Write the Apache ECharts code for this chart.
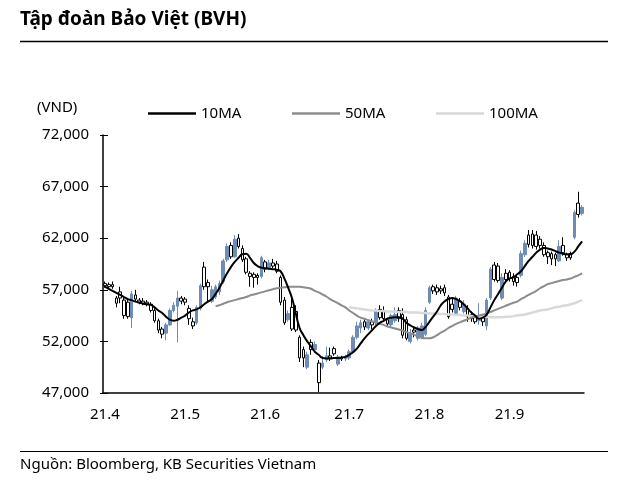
<!DOCTYPE html>
<html>
<head>
<meta charset="utf-8">
<script src="https://cdn.jsdelivr.net/npm/echarts@6/dist/echarts.min.js"></script>
<style>
html,body{margin:0;padding:0;background:#fff;}
#chart{width:628px;height:483px;}
</style>
</head>
<body>
<div id="chart"></div>
<script>
// ---- Data ----
const monthLabels = ['21.4', '21.5', '21.6', '21.7', '21.8', '21.9'];
const monthDays = [21, 21, 22, 21, 21, 20];
const extraTickIdx = [57];
const yTicks = [47000, 52000, 57000, 62000, 67000, 72000];

const open = [57600,57500,57500,56200,56800,56000,55800,54300,56500,56000,55900,55800,55600,55000,54000,53200,52800,53600,55000,55400,56200,56100,55200,53900,53800,55200,59200,57700,55900,56300,56800,57800,59900,61300,60200,62000,61000,60000,58600,58500,58400,58300,59700,59100,59600,59500,58200,56000,54100,55300,54900,52400,51200,49500,51900,51200,49900,49500,50200,50600,51300,49800,50400,50300,50400,51000,52400,53300,53900,53300,53900,53800,55100,55000,54100,53600,54000,55000,54600,54100,52000,53100,52300,52400,52700,55800,57300,57200,57100,57200,56300,55600,54700,55900,54900,55200,54600,54300,54000,54300,53500,56200,59400,59300,56200,58600,58700,58300,58200,58400,60400,62300,62400,62300,61900,61300,60600,60500,60400,59800,61300,60400,60500,62100,65400,64400];
const close = [57400,57300,57300,55700,56200,54500,54400,56600,56100,55800,55700,55600,55000,54000,53100,52700,53600,55000,55500,56200,55900,55800,54200,53500,55300,57400,57300,57300,57000,57300,57600,59800,61200,60200,61900,61200,59900,58700,58300,58200,58200,60100,59000,59600,59300,58800,55800,53800,54700,53200,53100,50400,50400,50700,51200,51700,48000,49900,50600,50400,50800,50500,50300,50500,51000,52400,53500,53800,53400,53900,53600,55000,54300,54200,53700,54500,54600,54200,52600,52300,52700,52900,53300,53500,55000,57200,56900,56800,56900,56700,54400,55100,56200,55300,55600,54400,54200,53900,54300,53900,56000,59000,58000,57900,58200,58000,58100,57800,57700,60500,61500,61400,61300,61200,61300,60400,60200,60000,60000,61200,60600,60100,60100,64500,64300,65000];
const low = [57200,57100,57100,55300,55700,54200,54200,53300,55900,55600,55500,55400,54800,53800,52800,52300,52100,53500,54800,51900,55600,55500,53600,53200,53600,55000,57000,55900,55700,56100,56500,57600,59700,60000,60100,61000,59700,58500,57300,57200,57500,58100,58700,58900,59100,58600,55500,53600,53900,53000,52900,50000,49500,49300,50700,50900,47100,49300,50000,50100,50600,49600,50100,50100,50200,50800,52200,52800,53100,53100,53200,53600,54100,54000,53500,53400,53800,53900,52300,52100,51800,52400,52100,52200,52500,55600,56600,56500,56600,56400,54200,54800,54500,55000,54700,53900,53900,53700,53600,53500,53100,56000,57800,57700,56000,57700,57800,57400,57300,58200,60200,61100,61000,60900,61000,60200,59500,59400,59300,59700,60300,59800,59900,61900,64000,64200];
const high = [57800,57700,57800,56400,57300,56200,56000,56900,57000,56200,56200,56000,55800,55200,54200,53400,53800,55200,55800,56900,56400,56300,55500,54300,55500,57600,59700,58000,57400,57500,57900,60000,61500,61600,62300,62400,61300,60200,58800,58700,58600,60300,59900,59900,60000,59800,58400,56300,55000,56300,55500,52600,51500,51000,52200,52000,50200,50600,51500,51400,51500,50700,50600,50700,51200,52600,53900,54100,54200,54100,54200,55200,55500,55400,54300,54700,55300,55300,55200,54400,53200,53400,53500,53800,55300,57400,57500,57500,57400,57500,56500,56300,56400,56200,56000,55500,54900,54600,55700,54500,56200,59200,59700,59600,58600,59000,58900,58600,58500,60800,61800,62800,62800,62700,62200,61600,60800,60700,60600,61800,62100,60600,60700,64700,66500,65200];

const ma10 = [57300,57100,56900,56700,56500,56300,56100,56000,55850,55750,55650,55600,55550,55300,55000,54750,54400,54100,54000,54100,54300,54500,54800,55000,55100,55300,55600,55850,56100,56600,57200,57900,58600,59200,59700,60100,60450,60500,60100,59600,59300,59150,59100,59050,59000,58950,58800,58100,57200,56200,54700,53300,52600,52000,51500,51000,50700,50400,50350,50350,50400,50400,50450,50500,50700,50950,51300,51800,52300,52700,53100,53500,53800,54000,54200,54300,54350,54350,54200,53800,53550,53350,53200,53100,53400,53900,54400,54900,55500,55900,56100,56200,56100,55900,55600,55200,54800,54500,54200,54300,54600,55300,56000,56600,57200,57800,58100,58200,58500,58800,59300,59800,60200,60600,60900,61050,61000,60900,60750,60600,60500,60450,60450,60700,61200,61700];
const ma50 = [null,null,null,null,null,null,null,null,null,null,null,null,null,null,null,null,null,null,null,null,null,null,null,null,null,null,null,null,null,55400,55500,55650,55800,55900,56000,56100,56200,56300,56450,56550,56650,56750,56850,56950,57050,57150,57200,57250,57300,57300,57300,57300,57250,57200,57100,56900,56750,56550,56350,56100,55900,55700,55500,55300,55000,54750,54500,54300,54200,54050,53950,53850,53700,53600,53450,53350,53250,53150,53050,52900,52800,52650,52500,52350,52300,52300,52400,52600,52850,53050,53300,53500,53700,53850,54000,54150,54300,54400,54500,54600,54700,54850,55000,55150,55300,55450,55600,55750,55850,56100,56300,56500,56700,56900,57150,57350,57550,57650,57750,57850,57950,58000,58100,58250,58400,58600];
const ma100 = [null,null,null,null,null,null,null,null,null,null,null,null,null,null,null,null,null,null,null,null,null,null,null,null,null,null,null,null,null,null,null,null,null,null,null,null,null,null,null,null,null,null,null,null,null,null,null,null,null,null,null,null,null,null,null,null,null,null,null,null,null,null,null,null,55300,55250,55200,55150,55100,55050,55000,55000,54950,54950,54900,54900,54900,54850,54850,54850,54800,54800,54800,54750,54750,54700,54700,54700,54650,54650,54600,54600,54550,54550,54500,54500,54450,54450,54400,54400,54400,54350,54350,54350,54350,54400,54400,54450,54500,54550,54600,54700,54800,54900,55000,55050,55100,55200,55300,55350,55450,55500,55600,55700,55850,56000];

// ---- Build categories & tick positions ----
const categories = [];
const monthStart = {};
monthLabels.forEach((m, k) => {
  monthStart[categories.length] = m;
  for (let d = 1; d <= monthDays[k]; d++) categories.push(m + '-' + d);
});
const tickSet = new Set(Object.keys(monthStart).map(Number).concat(extraTickIdx));
const candleData = open.map((o, i) => [o, close[i], low[i], high[i]]);

const FONT = 'Noto Sans';
const legendBase = {top: 101, itemWidth: 48, itemHeight: 2.5, icon: 'rect', itemGap: 6,
  textStyle: {fontSize: 15, color: '#000', fontFamily: FONT}};
const chart = echarts.init(document.getElementById('chart'), null, {renderer: 'canvas'});
chart.setOption({
  animation: false,
  backgroundColor: '#fff',
  textStyle: {fontFamily: FONT, color: '#000'},
  grid: {left: 103, right: 44, top: 135, bottom: 90},
  legend: [
    Object.assign({data: ['10MA'], left: 143}, legendBase),
    Object.assign({data: ['50MA'], left: 287}, legendBase),
    Object.assign({data: ['100MA'], left: 431}, legendBase)
  ],
  xAxis: {
    type: 'category',
    data: categories,
    boundaryGap: true,
    axisLine: {lineStyle: {color: '#000', width: 1.5}},
    axisTick: {inside: true, length: 6, lineStyle: {color: '#000'}, interval: (i) => tickSet.has(i)},
    axisLabel: {
      interval: (i) => monthStart[i] !== undefined,
      formatter: (v, i) => monthStart[i] || '',
      fontSize: 15, color: '#000', margin: 14, fontFamily: FONT
    },
    splitLine: {show: false}
  },
  yAxis: [
    {
      type: 'value', min: yTicks[0], max: yTicks[yTicks.length - 1], interval: 5000,
      axisLine: {show: true, lineStyle: {color: '#000', width: 1.5}},
      axisTick: {show: true, inside: true, length: 5, lineStyle: {color: '#000'}},
      axisLabel: {fontSize: 15, color: '#000', margin: 14, fontFamily: FONT,
        formatter: (v) => v.toLocaleString('en-US')},
      splitLine: {show: false}
    },
    {
      type: 'value', min: yTicks[0], max: yTicks[yTicks.length - 1], interval: 5000, position: 'left',
      axisLine: {show: false},
      axisTick: {show: true, inside: false, length: 3, lineStyle: {color: '#000'}},
      axisLabel: {show: false},
      splitLine: {show: false}
    }
  ],
  graphic: [
    {type: 'text', x: 20, y: 20, style: {text: 'Tập đoàn Bảo Việt (BVH)', font: 'bold 19px "Noto Sans"', fill: '#000', verticalAlign: 'middle'}},
    {type: 'line', shape: {x1: 20, y1: 41.5, x2: 608, y2: 41.5}, style: {stroke: '#000', lineWidth: 1.5}},
    {type: 'text', x: 37, y: 108, style: {text: '(VND)', font: '15px "Noto Sans"', fill: '#000', verticalAlign: 'middle'}},
    {type: 'line', shape: {x1: 20, y1: 451.5, x2: 608, y2: 451.5}, style: {stroke: '#000', lineWidth: 1}},
    {type: 'text', x: 20, y: 465, style: {text: 'Nguồn: Bloomberg, KB Securities Vietnam', font: '15px "Noto Sans"', fill: '#000', verticalAlign: 'middle'}}
  ],
  series: [
    {
      type: 'candlestick', name: 'BVH', data: candleData, barWidth: '82%',
      itemStyle: {color: '#6d8db5', color0: '#ffffff', borderColor: '#6d8db5', borderColor0: '#000000', borderWidth: 1}
    },
    {type: 'line', name: '100MA', data: ma100, smooth: true, symbol: 'none', lineStyle: {color: '#d9d9d9', width: 2.5}, itemStyle: {color: '#d9d9d9'}},
    {type: 'line', name: '50MA', data: ma50, smooth: true, symbol: 'none', lineStyle: {color: '#8c8c8c', width: 2}, itemStyle: {color: '#8c8c8c'}},
    {type: 'line', name: '10MA', data: ma10, smooth: true, symbol: 'none', lineStyle: {color: '#000', width: 2}, itemStyle: {color: '#000'}}
  ]
});
</script>
</body>
</html>
